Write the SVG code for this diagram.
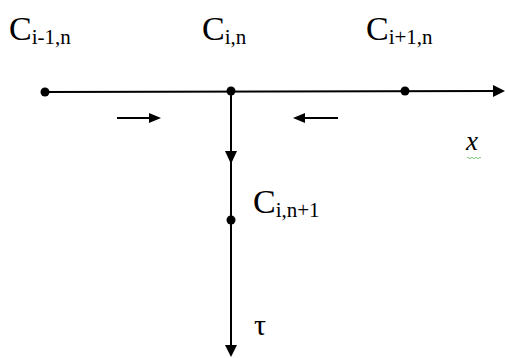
<svg xmlns="http://www.w3.org/2000/svg" width="505" height="358" viewBox="0 0 505 358">
<style>
.ln{stroke:#000;stroke-width:2;fill:none}
.hd{fill:#000}
.t{font-family:"Liberation Serif",serif;fill:#000}
.big{font-size:34px}
.sub{font-size:21px}
</style>
<rect width="505" height="358" fill="#fff"/>
<g id="connectors">
<line class="ln" x1="45" y1="92" x2="495" y2="91"/>
<polygon class="hd" points="505,91 493,85 493,97"/>
<line class="ln" x1="231" y1="91" x2="231" y2="347"/>
<polygon class="hd" points="231,164 225,151 237,151"/>
<polygon class="hd" points="231,357 225,345 237,345"/>
<line class="ln" x1="117" y1="118" x2="150" y2="118"/>
<polygon class="hd" points="161,118 149,113 149,123"/>
<line class="ln" x1="304" y1="118" x2="338" y2="118"/>
<polygon class="hd" points="293,118 305,113 305,123"/>
</g>
<g id="node-cim1">
<circle cx="45" cy="92" r="4.5"/>
<text class="t" x="9" y="40"><tspan class="big">C</tspan><tspan class="sub" dy="4">i-1,n</tspan></text>
</g>
<g id="node-ci">
<circle cx="231" cy="91" r="4.5"/>
<text class="t" x="202" y="40"><tspan class="big">C</tspan><tspan class="sub" dy="4">i,n</tspan></text>
</g>
<g id="node-cip1">
<circle cx="405" cy="91" r="4.5"/>
<text class="t" x="366" y="40"><tspan class="big">C</tspan><tspan class="sub" dy="4">i+1,n</tspan></text>
</g>
<g id="node-cn1">
<circle cx="231" cy="220" r="4.5"/>
<text class="t" x="253" y="213"><tspan class="big">C</tspan><tspan class="sub" dy="4">i,n+1</tspan></text>
</g>
<g id="label-x">
<text class="t" x="466" y="150" font-size="27" font-style="italic">x</text>
<path d="M467,158 q1,-1.5 2,0 t2,0 t2,0 t2,0 t2,0 t2,0 t2,0" stroke="#7cc47c" stroke-width="1" fill="none"/>
</g>
<g id="label-tau">
<text class="t" x="254" y="335" font-size="30">τ</text>
</g>
</svg>
